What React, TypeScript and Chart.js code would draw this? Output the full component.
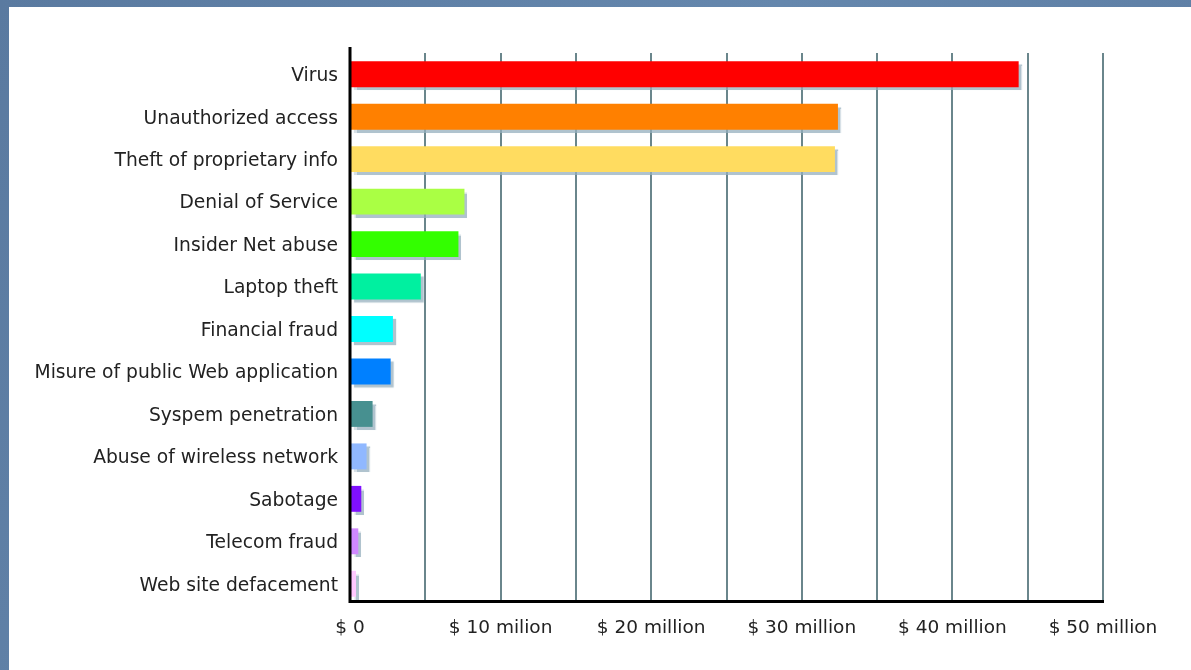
import React, { useEffect, useRef } from "react";
import { Chart, registerables } from "chart.js";

Chart.register(...registerables);

const categories = [
  "Virus",
  "Unauthorized access",
  "Theft of proprietary info",
  "Denial of Service",
  "Insider Net abuse",
  "Laptop theft",
  "Financial fraud",
  "Misure of public Web application",
  "Syspem penetration",
  "Abuse of wireless network",
  "Sabotage",
  "Telecom fraud",
  "Web site defacement",
];

// losses in $ million
const losses = [44.4, 32.4, 32.2, 7.6, 7.2, 4.7, 2.85, 2.7, 1.5, 1.1, 0.75, 0.55, 0.4];

const barColors = [
  "#ff0000",
  "#ff8000",
  "#ffdc60",
  "#aaff44",
  "#33ff00",
  "#00f0a0",
  "#00ffff",
  "#0080ff",
  "#479090",
  "#90b8ff",
  "#8010ff",
  "#d088ff",
  "#ffc8ff",
];

const tickLabels: Record<number, string> = {
  0: "$ 0",
  10: "$ 10 milion",
  20: "$ 20 million",
  30: "$ 30 million",
  40: "$ 40 million",
  50: "$ 50 million",
};

const FONT = "'DejaVu Sans', Verdana, sans-serif";
const AXIS_Y = 600;

const backgroundPlugin = {
  id: "slideBackground",
  beforeDraw(chart: any) {
    const { ctx, width, height } = chart;
    ctx.save();
    const g = ctx.createLinearGradient(0, 0, width, height);
    g.addColorStop(0, "#5a7aa0");
    g.addColorStop(0.5, "#6587ad");
    g.addColorStop(1, "#5a7aa0");
    ctx.fillStyle = g;
    ctx.fillRect(0, 0, width, height);
    ctx.fillStyle = "#ffffff";
    ctx.fillRect(9, 7, width - 9, height - 7);
    ctx.restore();
  },
};

const shadowPlugin = {
  id: "barShadow",
  beforeDatasetsDraw(chart: any) {
    const ctx = chart.ctx;
    ctx.save();
    ctx.shadowColor = "rgba(150,175,190,0.75)";
    ctx.shadowOffsetX = 3;
    ctx.shadowOffsetY = 3;
    ctx.shadowBlur = 1;
  },
  afterDatasetsDraw(chart: any) {
    chart.ctx.restore();
  },
};

const axesPlugin = {
  id: "axisLines",
  afterDatasetsDraw(chart: any) {
    const { ctx } = chart;
    const x = chart.scales.x;
    const left = x.getPixelForValue(0);
    const right = x.getPixelForValue(50);
    ctx.save();
    // hide grid below the axis line
    ctx.fillStyle = "#ffffff";
    ctx.fillRect(left - 3, AXIS_Y + 2, right - left + 8, chart.chartArea.bottom - AXIS_Y + 2);
    ctx.strokeStyle = "#000000";
    ctx.lineWidth = 3;
    ctx.beginPath();
    ctx.moveTo(left, 47);
    ctx.lineTo(left, AXIS_Y + 1.5);
    ctx.lineTo(right + 1, AXIS_Y + 1.5);
    ctx.stroke();
    ctx.restore();
  },
};

export default function App() {
  const ref = useRef<HTMLCanvasElement | null>(null);

  useEffect(() => {
    document.body.style.margin = "0";
    const canvas = ref.current;
    if (!canvas) return;
    const chart = new Chart(canvas, {
      type: "bar",
      data: {
        labels: categories,
        datasets: [
          {
            data: losses,
            backgroundColor: barColors,
            borderWidth: 0,
            barPercentage: 0.61,
            categoryPercentage: 1,
          },
        ],
      },
      plugins: [backgroundPlugin, shadowPlugin, axesPlugin],
      options: {
        indexAxis: "y",
        animation: false,
        responsive: false,
        maintainAspectRatio: false,
        layout: { padding: { left: 0, top: 53, right: 88, bottom: 0 } },
        plugins: {
          legend: { display: false },
          tooltip: { enabled: false },
        },
        scales: {
          x: {
            min: 0,
            max: 50,
            afterFit: (scale: any) => {
              scale.height = 65;
            },
            ticks: {
              stepSize: 5,
              autoSkip: false,
              maxRotation: 0,
              padding: 12,
              color: "#222222",
              font: { family: FONT, size: 18.5 },
              callback: (v: any) => (tickLabels[Number(v)] !== undefined ? tickLabels[Number(v)] : ""),
            },
            grid: {
              color: (c: any) => (c.tick && c.tick.value === 0 ? "rgba(0,0,0,0)" : "#6a868c"),
              lineWidth: 2,
              drawTicks: false,
            },
            border: { display: false },
          },
          y: {
            afterFit: (scale: any) => {
              scale.width = 350;
            },
            ticks: {
              padding: 12,
              labelOffset: 2,
              color: "#222222",
              font: { family: FONT, size: 18.7 },
            },
            grid: { display: false, drawTicks: false },
            border: { display: false },
          },
        },
      },
    });
    return () => chart.destroy();
  }, []);

  return (
    <div style={{ width: 1191, height: 670 }}>
      <canvas ref={ref} width={1191} height={670} style={{ display: "block" }} />
    </div>
  );
}
